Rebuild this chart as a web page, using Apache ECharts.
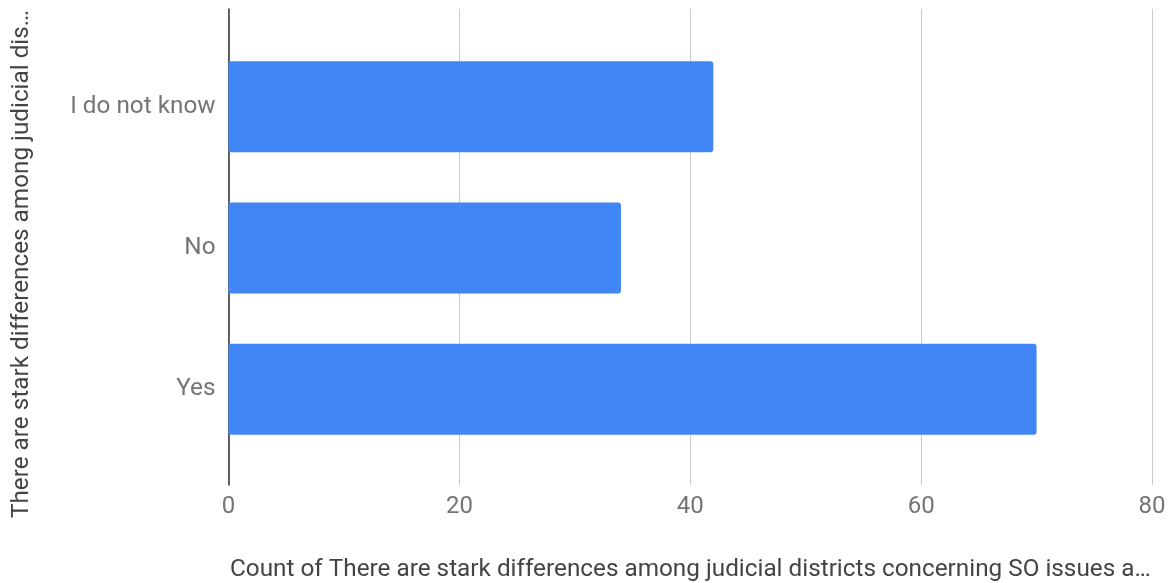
<!DOCTYPE html>
<html>
<head>
<meta charset="utf-8">
<script src="https://cdn.jsdelivr.net/npm/echarts@6/dist/echarts.min.js"></script>
<style>
html,body{margin:0;padding:0;background:#fff;}
#chart{width:1173px;height:583px;}
</style>
</head>
<body>
<div id="chart"></div>
<script>
const categories = ['Yes', 'No', 'I do not know'];
const counts = [70, 34, 42];
const xTicks = [0, 20, 40, 60, 80];
const xTitle = 'Count of There are stark differences among judicial districts concerning SO issues a…';
const yTitle = 'There are stark differences among judicial dis…';

const chart = echarts.init(document.getElementById('chart'));
const font = 'Roboto, "Noto Sans", sans-serif';
const option = {
  animation: false,
  grid: [
    {left: 228.5, right: 21, top: 9, bottom: 98},
    {left: 228.5, right: 21, top: 36, bottom: 123}
  ],
  xAxis: [
    {gridIndex: 0, type: 'value', min: xTicks[0], max: xTicks[xTicks.length-1], interval: 20,
     axisLine: {show: false}, axisTick: {show: false},
     axisLabel: {color: '#757575', fontSize: 24, fontFamily: font, margin: 10,
       formatter: v => xTicks.includes(v) ? String(v) : ''},
     splitLine: {show: true, lineStyle: {color: '#cccccc', width: 1}}},
    {gridIndex: 1, type: 'value', min: xTicks[0], max: xTicks[xTicks.length-1], interval: 20,
     axisLine: {show: false}, axisTick: {show: false}, axisLabel: {show: false}, splitLine: {show: false}}
  ],
  yAxis: [
    {gridIndex: 0, type: 'category', data: categories,
     axisLine: {show: true, lineStyle: {color: '#333333', width: 1.5}},
     axisTick: {show: false}, axisLabel: {show: false}, splitLine: {show: false}},
    {gridIndex: 1, type: 'category', data: categories,
     axisLine: {show: false}, axisTick: {show: false},
     axisLabel: {color: '#757575', fontSize: 24.3, fontFamily: font, margin: 13},
     splitLine: {show: false}}
  ],
  series: [{
    type: 'bar', xAxisIndex: 1, yAxisIndex: 1, data: counts, barWidth: 91,
    itemStyle: {color: '#4285f4', borderRadius: [0, 3, 3, 0]}, z: 3
  }],
  graphic: [
    {type: 'text', x: 230, y: 570,
     style: {text: xTitle, fill: '#444444', font: '24.3px ' + font, align: 'left', verticalAlign: 'middle'}},
    {type: 'text', x: 22, y: 264, rotation: Math.PI / 2,
     style: {text: yTitle, fill: '#444444', font: '24.3px ' + font, align: 'center', verticalAlign: 'middle'}}
  ]
};
chart.setOption(option);
</script>
</body>
</html>
